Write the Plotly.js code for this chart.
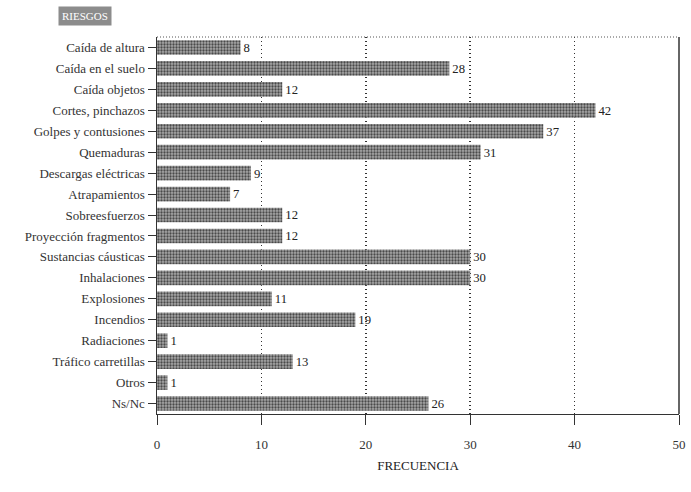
<!DOCTYPE html>
<html>
<head>
<meta charset="utf-8">
<script src="https://cdn.plot.ly/plotly-3.0.1.min.js"></script>
<style>html,body{margin:0;padding:0;background:#fff;}#chart{width:691px;height:492px;}</style>
</head>
<body>
<div id="chart"></div>
<script>
const categories = ["Caída de altura", "Caída en el suelo", "Caída objetos", "Cortes, pinchazos", "Golpes y contusiones", "Quemaduras", "Descargas eléctricas", "Atrapamientos", "Sobreesfuerzos", "Proyección fragmentos", "Sustancias cáusticas", "Inhalaciones", "Explosiones", "Incendios", "Radiaciones", "Tráfico carretillas", "Otros", "Ns/Nc"];
const frecuencia = [8, 28, 12, 42, 37, 31, 9, 7, 12, 12, 30, 30, 11, 19, 1, 13, 1, 26];
const xTicks = [0, 10, 20, 30, 40, 50];
const titleText = "RIESGOS";
const xTitle = "FRECUENCIA";

const serif = "Liberation Serif, DejaVu Serif, serif";

const trace = {
  type: "bar",
  orientation: "h",
  y: categories,
  x: frecuencia,
  text: frecuencia.map(String),
  textposition: "outside",
  cliponaxis: false,
  textfont: {family: serif, size: 13, color: "#222"},
  marker: {
    color: "#999",
    line: {width: 0},
    pattern: {shape: ".", fgcolor: "#4a4a4a", bgcolor: "#a8a8a8", size: 3, solidity: 0.45}
  },
  hoverinfo: "none"
};

const layout = {
  width: 691,
  height: 492,
  margin: {l: 157, r: 12, t: 37, b: 78},
  paper_bgcolor: "#fff",
  plot_bgcolor: "#fff",
  showlegend: false,
  bargap: 0.3,
  font: {family: serif, color: "#222"},
  xaxis: {
    range: [0, 50],
    tickvals: xTicks,
    ticktext: xTicks.map(String),
    ticks: "outside",
    ticklen: 10,
    tickcolor: "#333",
    ticklabelstandoff: 8,
    tickfont: {family: serif, size: 13, color: "#333"},
    showgrid: true,
    gridcolor: "#333",
    griddash: "1px,3px",
    gridwidth: 1.5,
    zeroline: false,
    showline: true,
    linecolor: "#333",
    linewidth: 1,
    mirror: false,
    title: {text: xTitle, font: {family: serif, size: 13, color: "#222"}, standoff: 10}
  },
  yaxis: {
    autorange: "reversed",
    ticks: "outside",
    ticklen: 8,
    tickcolor: "#333",
    tickfont: {family: serif, size: 13, color: "#333"},
    showgrid: false,
    zeroline: false,
    showline: true,
    linecolor: "#333",
    linewidth: 1.5
  },
  shapes: [
    {type: "line", xref: "paper", yref: "paper", x0: 0, x1: 1, y0: 1, y1: 1, line: {color: "#555", width: 1, dash: "1px,2px"}},
    {type: "line", xref: "paper", yref: "paper", x0: 1, x1: 1, y0: 0, y1: 1, line: {color: "#333", width: 1.5}}
  ],
  annotations: [
    {
      text: titleText,
      xref: "paper", yref: "paper",
      x: -0.19, y: 1.055, xanchor: "left", yanchor: "middle",
      showarrow: false,
      font: {family: serif, size: 11, color: "#fff"},
      bgcolor: "#8c8c8c",
      borderpad: 3
    }
  ]
};

Plotly.newPlot("chart", [trace], layout, {displayModeBar: false, staticPlot: true});
</script>
</body>
</html>
